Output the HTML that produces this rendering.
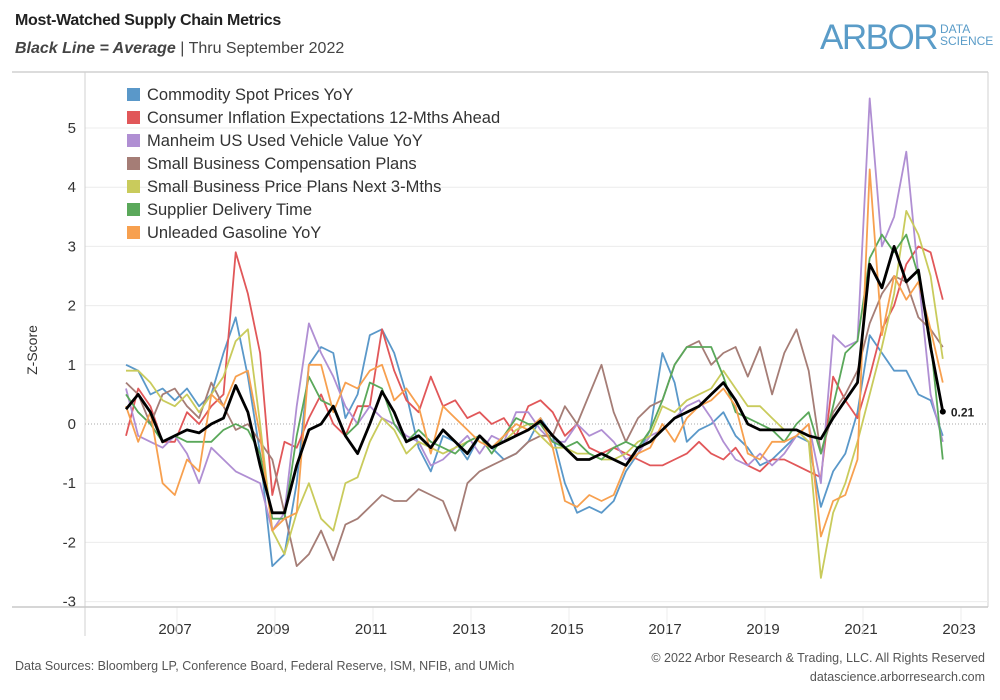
<!DOCTYPE html>
<html><head><meta charset="utf-8"><style>
body{margin:0;background:#fff;font-family:"Liberation Sans",sans-serif;}
#wrap{position:relative;width:1000px;height:700px;overflow:hidden;}
.t{position:absolute;white-space:nowrap;}
</style></head><body>
<div id="wrap">
<div class="t" style="left:15px;top:12px;font-size:16px;font-weight:bold;color:#222;letter-spacing:-0.3px">Most-Watched Supply Chain Metrics</div>
<div class="t" style="left:15px;top:40px;font-size:16px;color:#444"><b><i>Black Line = Average</i></b> | Thru September 2022</div>
<div class="t" style="left:820px;top:18px;color:#5a9cc8;">
<span style="font-size:35px;letter-spacing:-1.5px">ARBOR</span><span style="display:inline-block;font-size:12px;line-height:12px;vertical-align:4px;margin-left:3px">DATA<br>SCIENCE</span></div>
<svg id="chart" width="1000" height="700" style="position:absolute;left:0;top:0"></svg>
<div class="t" style="left:15px;top:659px;font-size:12.5px;color:#555">Data Sources: Bloomberg LP, Conference Board, Federal Reserve, ISM, NFIB, and UMich</div>
<div class="t" style="right:15px;top:651px;font-size:12.5px;color:#555">© 2022 Arbor Research &amp; Trading, LLC. All Rights Reserved</div>
<div class="t" style="right:15px;top:670px;font-size:12.5px;color:#555">datascience.arborresearch.com</div>
</div>
<script>
const seriesNames=["Commodity Spot Prices YoY","Consumer Inflation Expectations 12-Mths Ahead","Manheim US Used Vehicle Value YoY","Small Business Compensation Plans","Small Business Price Plans Next 3-Mths","Supplier Delivery Time","Unleaded Gasoline YoY"];
const seriesColors=["#5a98c9","#e15759","#b08fd3","#a57d76","#c9cb5c","#5aa85a","#f7a04f"];
const yTicks=[-3,-2,-1,0,1,2,3,4,5];
const xTicks=[2007,2009,2011,2013,2015,2017,2019,2021,2023];
const startYear=2006, endYear=2022.67;
const commodity=[1.0,0.9,0.5,0.6, 0.4,0.6,0.3,0.5, 1.2,1.8,0.8,-0.5, -2.4,-2.2,-1.0,1.0, 1.3,1.2,0.1,0.5, 1.5,1.6,1.2,0.5, -0.4,-0.8,-0.2,-0.3, -0.6,-0.2,-0.4,-0.6, -0.5,-0.3,0.1,-0.2, -1.0,-1.5,-1.4,-1.5, -1.3,-0.8,-0.5,-0.1, 1.2,0.7,-0.3,-0.1, 0.0,0.2,-0.2,-0.4, -0.7,-0.6,-0.4,-0.2, -0.3,-1.4,-0.8,-0.5, 0.2,1.5,1.2,0.9, 0.9,0.5,0.4,-0.2];
const inflation=[-0.2,0.6,0.3,-0.3, -0.3,0.2,0.0,0.3, 0.5,2.9,2.2,1.2, -1.2,-0.3,-0.4,0.1, 0.5,0.0,-0.2,0.3, 0.3,1.6,0.9,0.4, 0.2,0.8,0.3,0.4, 0.1,0.2,0.0,0.1, -0.2,0.3,0.4,0.2, -0.2,0.0,-0.4,-0.5, -0.4,-0.5,-0.6,-0.7, -0.7,-0.6,-0.5,-0.3, -0.5,-0.6,-0.4,-0.7, -0.8,-0.6,-0.6,-0.7, -0.8,-0.9,0.8,0.4, 0.1,0.8,1.6,2.0, 2.7,3.0,2.9,2.1];
const manheim=[0.6,-0.2,-0.3,-0.4, -0.2,-0.5,-1.0,-0.4, -0.6,-0.8,-0.9,-1.0, -1.8,-1.5,0.3,1.7, 1.2,0.8,0.3,0.0, 0.3,0.1,0.0,-0.2, -0.3,-0.7,-0.6,-0.4, -0.2,-0.5,-0.2,-0.3, 0.2,0.2,-0.1,-0.3, -0.3,0.0,-0.2,-0.1, -0.3,-0.6,-0.5,-0.2, -0.1,0.1,0.3,0.4, 0.1,-0.3,-0.6,-0.7, -0.5,-0.7,-0.5,-0.2, 0.0,-1.0,1.5,1.3, 1.4,5.5,3.0,3.5, 4.6,2.5,0.5,-0.3];
const compPlans=[0.7,0.5,0.0,0.5, 0.6,0.3,0.1,0.7, 0.3,-0.1,0.0,-0.3, -0.6,-1.5,-2.4,-2.2, -1.8,-2.3,-1.7,-1.6, -1.4,-1.2,-1.3,-1.3, -1.1,-1.2,-1.3,-1.8, -1.0,-0.8,-0.7,-0.6, -0.5,-0.3,-0.2,-0.2, 0.3,0.0,0.5,1.0, 0.2,-0.3,0.1,0.3, 0.4,1.0,1.3,1.4, 1.0,1.2,1.3,0.8, 1.3,0.5,1.2,1.6, 0.9,-0.5,0.2,0.5, 0.9,1.7,2.2,2.5, 2.4,1.8,1.6,1.3];
const pricePlans=[0.9,0.9,0.7,0.4, 0.3,0.5,0.2,0.5, 0.8,1.4,1.6,0.0, -1.8,-2.2,-1.5,-1.0, -1.6,-1.8,-1.0,-0.9, -0.3,0.1,-0.1,-0.5, -0.3,-0.4,-0.5,-0.4, -0.3,-0.2,-0.4,-0.3, -0.1,0.0,-0.2,-0.4, -0.4,-0.5,-0.5,-0.6, -0.6,-0.5,-0.3,-0.2, 0.3,0.2,0.4,0.5, 0.6,0.9,0.6,0.3, 0.3,0.1,-0.1,-0.1, -0.3,-2.6,-1.5,-1.0, -0.3,0.5,1.3,2.2, 3.6,3.2,2.5,1.1];
const delivery=[0.5,0.2,0.0,-0.3, -0.2,-0.3,-0.3,-0.3, -0.1,0.0,-0.1,-0.5, -1.6,-1.6,-0.2,0.8, 0.4,0.3,-0.2,0.0, 0.7,0.6,0.0,-0.3, -0.1,-0.3,-0.4,-0.5, -0.3,-0.2,-0.5,-0.2, 0.1,0.0,0.0,-0.3, -0.4,-0.3,-0.5,-0.6, -0.4,-0.3,-0.4,-0.1, 0.4,1.0,1.3,1.3, 1.3,0.8,0.2,0.1, 0.0,-0.1,-0.3,0.0, 0.2,-0.5,0.3,1.2, 1.4,2.8,3.2,2.9, 3.2,2.5,1.4,-0.6];
const gasoline=[0.3,-0.3,0.2,-1.0, -1.2,-0.6,-0.8,0.5, 0.3,0.8,0.9,-0.2, -1.8,-1.6,-1.5,1.0, 1.0,0.2,0.7,0.6, 0.9,1.0,0.4,0.6, 0.3,-0.5,0.3,0.1, -0.1,-0.3,-0.4,-0.2, 0.0,-0.1,0.1,-0.4, -1.3,-1.4,-1.2,-1.3, -1.2,-0.7,-0.5,-0.4, 0.0,-0.3,0.1,0.3, 0.4,0.6,0.3,-0.5, -0.6,-0.3,-0.3,-0.2, 0.0,-1.9,-1.3,-1.2, -0.6,4.3,1.5,2.5, 2.1,2.4,1.6,0.7];
const average=[0.25,0.5,0.2,-0.3, -0.2,-0.1,-0.15,0.0, 0.1,0.65,0.2,-0.7, -1.5,-1.5,-0.7,-0.1, 0.0,0.3,-0.2,-0.5, 0.0,0.55,0.2,-0.3, -0.2,-0.4,-0.1,-0.3, -0.5,-0.2,-0.4,-0.3, -0.2,-0.1,0.05,-0.2, -0.4,-0.6,-0.6,-0.5, -0.6,-0.7,-0.4,-0.3, -0.1,0.1,0.2,0.3, 0.5,0.7,0.4,0.0, -0.1,-0.1,-0.1,-0.1, -0.2,-0.25,0.1,0.4, 0.7,2.7,2.3,3.0, 2.4,2.6,1.3,0.21];
const allSeries=[commodity,inflation,manheim,compPlans,pricePlans,delivery,gasoline];

const NS="http://www.w3.org/2000/svg";
const svg=document.getElementById('chart');
function el(tag,attrs,parent){const e=document.createElementNS(NS,tag);for(const k in attrs)e.setAttribute(k,attrs[k]);(parent||svg).appendChild(e);return e;}
const X0=175,PXY=49,Y0=424,PXU=59.2;
function xs(yr){return X0+(yr-2007)*PXY;}
function ys(v){return Y0-v*PXU;}
function xi(i,n){return xs(startYear+i*(endYear-startYear)/(n-1));}

let f=el('line',{x1:12,y1:72,x2:988,y2:72,stroke:'#d0d0d0','stroke-width':1.5});

f=el('line',{x1:988,y1:72,x2:988,y2:607,stroke:'#d0d0d0','stroke-width':1});

yTicks.forEach(v=>{
  const g=el('line',{x1:85,x2:988,y1:ys(v),y2:ys(v),stroke:v===0?'#aaa':'#ececec','stroke-width':1,'stroke-dasharray':v===0?'1,2':''});
  
  const t=el('text',{x:76,y:ys(v)+5,'text-anchor':'end','font-size':15,fill:'#333'});
  t.textContent=v;
  
});
xTicks.forEach(yr=>{
  const t=el('text',{x:xs(yr),y:634,'text-anchor':'middle','font-size':15,fill:'#333'});
  t.textContent=yr;
  
  const l=el('line',{x1:xs(yr)+2,x2:xs(yr)+2,y1:607,y2:636,stroke:'#eee'});
  
});
f=el('line',{x1:85,y1:72,x2:85,y2:636,stroke:'#d0d0d0','stroke-width':1});

f=el('line',{x1:12,y1:607,x2:988,y2:607,stroke:'#c8c8c8','stroke-width':1.5});

const yt=el('text',{x:0,y:0,transform:'translate(37,350) rotate(-90)','text-anchor':'middle','font-size':14,fill:'#333'});
yt.textContent='Z-Score';


allSeries.forEach((s,k)=>{
  const d=s.map((v,i)=>(i?'L':'M')+xi(i,s.length).toFixed(1)+','+ys(v).toFixed(1)).join('');
  const p=el('path',{d:d,fill:'none',stroke:seriesColors[k],'stroke-width':1.8,'stroke-linejoin':'round'});
  
  
});
const ad=average.map((v,i)=>(i?'L':'M')+xi(i,average.length).toFixed(1)+','+ys(v).toFixed(1)).join('');
const ap=el('path',{d:ad,fill:'none',stroke:'#000','stroke-width':2.8,'stroke-linejoin':'round'});


const lastI=average.length-1;
const dot=el('circle',{cx:xi(lastI,average.length),cy:ys(average[lastI]),r:3,fill:'#000'});


const lbl=el('text',{x:xi(lastI,average.length)+8,y:ys(average[lastI])+5,'font-size':12,'font-weight':'bold',fill:'#222'});
lbl.textContent=average[lastI].toFixed(2);



seriesNames.forEach((n,k)=>{
  const y=88+k*23;
  const r=el('rect',{x:127,y:y,width:13,height:13,fill:seriesColors[k]});
  
  
  const t=el('text',{x:147,y:y+12,'font-size':16.5,fill:'#333'});
  t.textContent=n;
  
  
});
</script>
</body></html>
